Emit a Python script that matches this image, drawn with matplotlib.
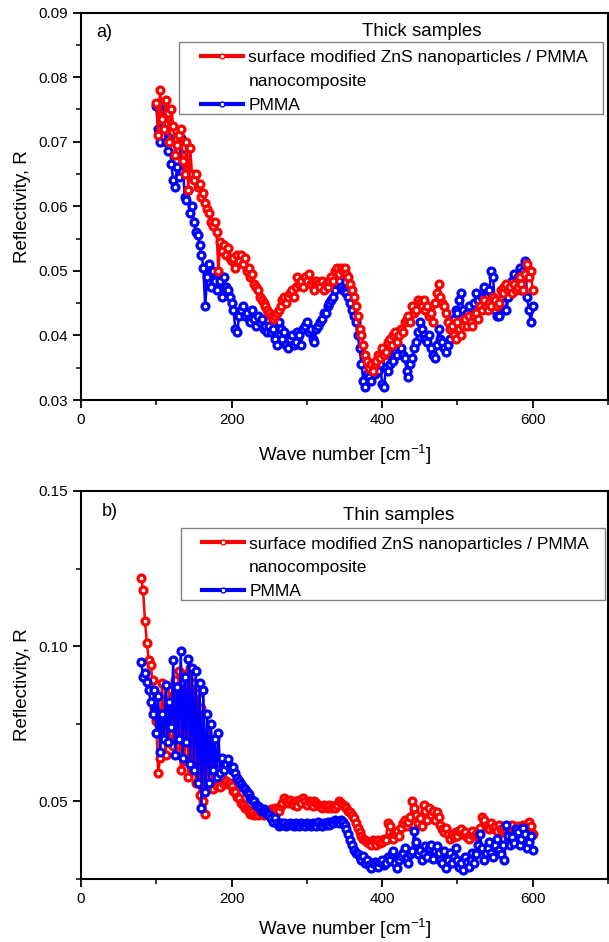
import numpy as np
import matplotlib
matplotlib.use("Agg")
import matplotlib.pyplot as plt
from matplotlib.lines import Line2D
from matplotlib.patches import Rectangle
from matplotlib.ticker import MultipleLocator, FormatStrFormatter

plt.rcParams['font.family'] = ['Liberation Sans', 'DejaVu Sans']
plt.rcParams['mathtext.default'] = 'regular'

# wave numbers (cm-1)
wn_thick = np.arange(100, 601, 2.5)
wn_thin = np.arange(80, 601, 2.5)

# a) thick samples
thick_zns = [
    .0760, .0710, .0780, .0735, .0720, .0765, .0745, .0700, .0750, .0725,
    .0680, .0695, .0710, .0720, .0670, .0650, .0700, .0625, .0690, .0650,
    .0640, .0650, .0630, .0635, .0615, .0620, .0605, .0595, .0590, .0575,
    .0570, .0575, .0560, .0500, .0545, .0530, .0540, .0525, .0535, .0520,
    .0515, .0520, .0505, .0525, .0515, .0525, .0510, .0520, .0500, .0505,
    .0490, .0495, .0480, .0475, .0470, .0460, .0455, .0450, .0445, .0440,
    .0435, .0430, .0425, .0430, .0435, .0440, .0445, .0455, .0460, .0450,
    .0460, .0465, .0470, .0460, .0475, .0490, .0480, .0485, .0475, .0490,
    .0485, .0495, .0480, .0485, .0470, .0485, .0480, .0475, .0485, .0470,
    .0480, .0475, .0485, .0490, .0485, .0500, .0505, .0495, .0505, .0500,
    .0505, .0495, .0490, .0480, .0470, .0460, .0445, .0430, .0410, .0400,
    .0385, .0370, .0360, .0350, .0355, .0345, .0355, .0360, .0370, .0365,
    .0380, .0370, .0375, .0390, .0395, .0385, .0400, .0405, .0390, .0400,
    .0410, .0405, .0420, .0425, .0430, .0420, .0445, .0435, .0440, .0455,
    .0450, .0445, .0455, .0440, .0445, .0430, .0435, .0420, .0450, .0465,
    .0480, .0460, .0450, .0445, .0435, .0420, .0410, .0415, .0400, .0395,
    .0420, .0410, .0400, .0415, .0425, .0415, .0430, .0420, .0415, .0430,
    .0435, .0425, .0445, .0440, .0455, .0445, .0440, .0450, .0445, .0460,
    .0455, .0445, .0450, .0470, .0465, .0475, .0480, .0470, .0475, .0465,
    .0480, .0470, .0475, .0490, .0480, .0470, .0495, .0510, .0490, .0500,
    .0470]
thick_pmma = [
    .0755, .0720, .0700, .0735, .0760, .0700, .0685, .0705, .0665, .0640,
    .0630, .0660, .0645, .0705, .0680, .0615, .0610, .0625, .0590, .0600,
    .0575, .0560, .0555, .0540, .0525, .0505, .0445, .0490, .0510, .0475,
    .0500, .0485, .0470, .0495, .0485, .0460, .0490, .0475, .0470, .0460,
    .0450, .0440, .0410, .0405, .0430, .0440, .0445, .0430, .0435, .0425,
    .0420, .0440, .0425, .0415, .0430, .0420, .0425, .0410, .0415, .0405,
    .0415, .0405, .0410, .0395, .0385, .0420, .0410, .0395, .0405, .0385,
    .0380, .0395, .0400, .0385, .0390, .0405, .0400, .0385, .0410, .0415,
    .0420, .0405, .0410, .0395, .0390, .0410, .0415, .0420, .0425, .0435,
    .0435, .0445, .0450, .0455, .0460, .0470, .0480, .0485, .0475, .0470,
    .0470, .0465, .0460, .0450, .0440, .0430, .0420, .0400, .0380, .0355,
    .0330, .0320, .0340, .0335, .0330, .0345, .0340, .0350, .0345, .0355,
    .0325, .0320, .0350, .0345, .0355, .0365, .0360, .0375, .0370, .0380,
    .0380, .0370, .0365, .0345, .0335, .0355, .0365, .0380, .0390, .0405,
    .0420, .0410, .0400, .0395, .0390, .0400, .0380, .0370, .0365, .0385,
    .0410, .0395, .0390, .0380, .0375, .0385, .0395, .0410, .0425, .0440,
    .0435, .0455, .0465, .0440, .0420, .0435, .0445, .0430, .0430, .0450,
    .0465, .0455, .0445, .0460, .0475, .0460, .0450, .0470, .0500, .0490,
    .0440, .0430, .0430, .0445, .0450, .0440, .0440, .0460, .0470, .0485,
    .0495, .0480, .0490, .0505, .0470, .0500, .0515, .0460, .0440, .0420,
    .0445]

# b) thin samples
thin_zns = [
    .1220, .1180, .1080, .1010, .0955, .0940, .0890, .0800, .0760, .0590,
    .0640, .0880, .0760, .0650, .0830, .0700, .0860, .0680, .0890, .0660,
    .0920, .0600, .0880, .0630, .0910, .0580, .0930, .0600, .0880, .0560,
    .0850, .0520, .0800, .0500, .0460, .0720, .0560, .0680, .0540, .0640,
    .0550, .0600, .0545, .0580, .0555, .0565, .0555, .0560, .0550, .0535,
    .0530, .0515, .0510, .0495, .0490, .0480, .0475, .0470, .0460, .0465,
    .0455, .0460, .0455, .0465, .0460, .0455, .0465, .0470, .0460, .0475,
    .0470, .0480, .0475, .0470, .0485, .0495, .0510, .0500, .0495, .0505,
    .0495, .0490, .0500, .0485, .0505, .0495, .0510, .0500, .0490, .0500,
    .0495, .0485, .0500, .0495, .0490, .0485, .0480, .0490, .0485, .0480,
    .0490, .0480, .0485, .0480, .0490, .0500, .0495, .0490, .0485, .0480,
    .0470, .0465, .0455, .0445, .0430, .0415, .0400, .0390, .0380, .0375,
    .0370, .0365, .0360, .0375, .0370, .0360, .0375, .0365, .0370, .0380,
    .0375, .0430, .0420, .0390, .0380, .0395, .0405, .0390, .0415, .0430,
    .0440, .0420, .0435, .0450, .0500, .0480, .0455, .0430, .0445, .0420,
    .0490, .0470, .0440, .0480, .0455, .0470, .0440, .0465, .0450, .0425,
    .0410, .0400, .0415, .0395, .0380, .0395, .0385, .0400, .0390, .0405,
    .0410, .0395, .0400, .0385, .0380, .0395, .0405, .0390, .0395, .0400,
    .0415, .0450, .0440, .0420, .0425, .0410, .0430, .0415, .0420, .0405,
    .0425, .0410, .0400, .0415, .0405, .0395, .0420, .0425, .0405, .0415,
    .0420, .0400, .0410, .0425, .0405, .0415, .0435, .0420, .0395]
thin_pmma = [
    .0950, .0900, .0915, .0885, .0860, .0820, .0780, .0860, .0720, .0840,
    .0660, .0780, .0700, .0875, .0690, .0820, .0740, .0955, .0650, .0870,
    .0700, .0985, .0640, .0900, .0690, .0960, .0620, .0930, .0600, .0920,
    .0560, .0880, .0480, .0860, .0530, .0780, .0560, .0750, .0600, .0700,
    .0580, .0720, .0590, .0640, .0600, .0620, .0635, .0610, .0600, .0610,
    .0590, .0575, .0565, .0555, .0545, .0540, .0530, .0525, .0510, .0505,
    .0500, .0490, .0485, .0480, .0470, .0475, .0465, .0460, .0455, .0445,
    .0435, .0445, .0430, .0420, .0430, .0425, .0430, .0420, .0425, .0430,
    .0425, .0420, .0430, .0425, .0420, .0430, .0425, .0420, .0430, .0425,
    .0420, .0430, .0425, .0420, .0435, .0425, .0420, .0430, .0425, .0435,
    .0425, .0435, .0430, .0440, .0435, .0430, .0440, .0435, .0425, .0410,
    .0395, .0375, .0360, .0345, .0335, .0330, .0320, .0310, .0325, .0300,
    .0310, .0295, .0285, .0300, .0305, .0295, .0290, .0305, .0310, .0295,
    .0300, .0320, .0310, .0330, .0340, .0300, .0285, .0310, .0325, .0335,
    .0350, .0320, .0300, .0330, .0340, .0405, .0370, .0330, .0345, .0310,
    .0330, .0355, .0320, .0350, .0360, .0315, .0340, .0355, .0335, .0310,
    .0300, .0340, .0285, .0310, .0335, .0300, .0320, .0350, .0310, .0290,
    .0300, .0280, .0320, .0305, .0290, .0310, .0335, .0300, .0330, .0360,
    .0395, .0350, .0310, .0335, .0350, .0370, .0335, .0320, .0360, .0380,
    .0345, .0330, .0360, .0310, .0425, .0390, .0360, .0385, .0365, .0410,
    .0400, .0360, .0380, .0415, .0395, .0350, .0370, .0390, .0345]

lab_zns = "surface modified ZnS nanoparticles / PMMA"
lab_zns2 = "nanocomposite"
lab_pmma = "PMMA"

W, H = 609, 942
fig = plt.figure(figsize=(W / 100, H / 100), dpi=100)
ax1 = fig.add_axes([81 / W, 1 - 400 / H, 527 / W, 387.5 / H])
ax2 = fig.add_axes([81 / W, 1 - 879 / H, 527 / W, 388 / H])

style = dict(marker='o', markersize=5, markerfacecolor='white',
             markeredgewidth=2.3, linewidth=1.8)


def draw(ax, x, zns, pmma, zns_on_top):
    ax.plot(x, pmma, color='#0000ff', markeredgecolor='#0000ff',
            zorder=3 if zns_on_top else 4, **style)
    ax.plot(x, zns, color='#ff0000', markeredgecolor='#ff0000',
            zorder=4 if zns_on_top else 3, **style)


def decorate(ax, ylim, ymaj, ymin, tag, tag_xy, title, title_xy, box, hx, yc,
             xpad):
    ax.set_xlim(0, 700)
    ax.set_ylim(*ylim)
    ax.xaxis.set_major_locator(MultipleLocator(200))
    ax.xaxis.set_minor_locator(MultipleLocator(100))
    ax.yaxis.set_major_locator(MultipleLocator(ymaj))
    ax.yaxis.set_minor_locator(MultipleLocator(ymin))
    ax.yaxis.set_major_formatter(FormatStrFormatter('%.2f'))
    ax.tick_params(which='major', direction='out', length=6, width=1.3,
                   labelsize=11, top=False, right=False)
    ax.tick_params(which='minor', direction='out', length=3.5, width=1.1,
                   top=False, right=False)
    for sp in ax.spines.values():
        sp.set_linewidth(1.5)
    ax.set_xlabel("Wave number [cm$^{-1}$]", fontsize=13.5, labelpad=xpad)
    ax.set_ylabel("Reflectivity, R", fontsize=13.5, labelpad=5)
    ax.text(*tag_xy, tag, transform=ax.transAxes,
            fontsize=13, ha='left', va='center')
    ax.text(*title_xy, title, transform=ax.transAxes,
            fontsize=13.5, ha='center', va='center')

    # legend frame drawn separately so its padding matches
    ax.add_patch(Rectangle(box[:2], box[2], box[3], transform=ax.transAxes,
                           facecolor='white', edgecolor='#808080',
                           linewidth=1.0, zorder=5))
    handles = [
        Line2D([], [], color='#ff0000', markeredgecolor='#ff0000', **style),
        Line2D([], [], linestyle='none'),
        Line2D([], [], color='#0000ff', markeredgecolor='#0000ff', **style),
    ]
    for h in (handles[0], handles[2]):
        h.set_markersize(3.5)
        h.set_markeredgewidth(1.0)
        h.set_linewidth(3)
    leg = ax.legend(handles, [lab_zns, lab_zns2, lab_pmma],
                    loc='center left', bbox_to_anchor=(hx, yc),
                    fontsize=12.5, frameon=False, borderpad=0,
                    handlelength=2.4, handletextpad=0.32, labelspacing=0.5,
                    borderaxespad=0, numpoints=1)
    leg.set_zorder(6)


draw(ax1, wn_thick, thick_zns, thick_pmma, True)
decorate(ax1, (0.03, 0.09), 0.01, 0.005, "a)", (0.028, 0.948),
         "Thick samples", (0.647, 0.952),
         (0.186, 0.738, 0.804, 0.186), 0.228, 0.822, 11)

draw(ax2, wn_thin, thin_zns, thin_pmma, False)
decorate(ax2, (0.025, 0.15), 0.05, 0.025, "b)", (0.04, 0.946),
         "Thin samples", (0.603, 0.936),
         (0.190, 0.719, 0.804, 0.186), 0.2296, 0.802, 8)

fig.savefig("out.png", dpi=100)
